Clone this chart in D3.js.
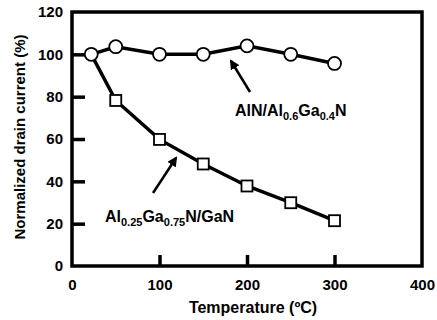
<!DOCTYPE html>
<html><head><meta charset="utf-8">
<script src="https://cdn.jsdelivr.net/npm/d3@7"></script>
<style>body{margin:0;background:#fff}svg{display:block}text{font-family:"Liberation Sans",Arial,sans-serif;font-weight:bold}</style>
</head><body><svg id="c" width="437" height="320"></svg>
<script>
const xTicks = [0, 100, 200, 300, 400];
const yTicks = [0, 20, 40, 60, 80, 100, 120];
const tempAlN = [22, 50, 100, 150, 200, 250, 300];
const currentAlN = [100, 103.6, 100, 100, 104, 100, 95.7];
const tempAlGaN = [22, 50, 100, 150, 200, 250, 300];
const currentAlGaN = [100, 78.2, 59.8, 48.2, 37.8, 29.9, 21.4];

const svg = d3.select("#c");
const m = {l: 72, r: 422, t: 12, b: 266};
const x = d3.scaleLinear().domain([0, 400]).range([m.l, m.r]);
const y = d3.scaleLinear().domain([0, 120]).range([m.b, m.t]);

svg.append("rect").attr("x", m.l).attr("y", m.t).attr("width", m.r - m.l).attr("height", m.b - m.t)
  .attr("fill", "none").attr("stroke", "#000").attr("stroke-width", 3.5);

const ax = svg.append("g").attr("transform", `translate(0,${m.b})`)
  .call(d3.axisBottom(x).tickValues(xTicks).tickSize(-11).tickPadding(10).tickFormat(d3.format("d")));
const ay = svg.append("g").attr("transform", `translate(${m.l},0)`)
  .call(d3.axisLeft(y).tickValues(yTicks).tickSize(-13).tickPadding(9).tickFormat(d3.format("d")));
[ax, ay].forEach(g => {
  g.select(".domain").remove();
  g.selectAll(".tick line").attr("stroke", "#000").attr("stroke-width", 3.5);
  g.selectAll(".tick text").attr("font-size", 15).attr("fill", "#000").style("font-family", '"Liberation Sans",Arial,sans-serif').style("font-weight", "bold");
});
ax.selectAll(".tick text").attr("dy", "0.9em");
ax.selectAll(".tick").filter(d => d === 0 || d === 400).select("line").remove();
ay.selectAll(".tick").filter(d => d === 0 || d === 120).select("line").remove();

const line = d3.line().x(d => x(d[0])).y(d => y(d[1]));
const s1 = tempAlN.map((t, i) => [t, currentAlN[i]]);
const s2 = tempAlGaN.map((t, i) => [t, currentAlGaN[i]]);

svg.append("path").datum(s2).attr("d", line).attr("fill", "none").attr("stroke", "#000").attr("stroke-width", 3.5);
svg.append("path").datum(s1).attr("d", line).attr("fill", "none").attr("stroke", "#000").attr("stroke-width", 3.5);

svg.selectAll(".sq").data(s2.slice(1)).enter().append("rect")
  .attr("x", d => x(d[0]) - 5.5).attr("y", d => y(d[1]) - 5.5).attr("width", 11).attr("height", 11)
  .attr("fill", "#fff").attr("stroke", "#000").attr("stroke-width", 1.8);
svg.selectAll(".ci").data(s1).enter().append("circle")
  .attr("cx", d => x(d[0])).attr("cy", d => y(d[1])).attr("r", 6.5)
  .attr("fill", "#fff").attr("stroke", "#000").attr("stroke-width", 1.8);

svg.append("text").attr("x", 253).attr("y", 313).attr("text-anchor", "middle").attr("font-size", 16).text("Temperature (ºC)");
svg.append("text").attr("transform", "translate(25,137) rotate(-90)").attr("text-anchor", "middle").attr("font-size", 15).text("Normalized drain current (%)");

function label2(xp, yp, parts) {
  const t = svg.append("text").attr("x", xp).attr("y", yp).attr("font-size", 16);
  let prevSub = false;
  parts.forEach(([s, sub]) => {
    let dy = 0;
    if (sub && !prevSub) dy = 4;
    if (!sub && prevSub) dy = -4;
    t.append("tspan").attr("font-size", sub ? 11 : 16).attr("dy", dy).text(s);
    prevSub = sub;
  });
}
label2(235, 116, [["AlN/Al", false], ["0.6", true], ["Ga", false], ["0.4", true], ["N", false]]);
label2(105, 222, [["Al", false], ["0.25", true], ["Ga", false], ["0.75", true], ["N/GaN", false]]);

svg.append("defs").append("marker").attr("id", "ah").attr("viewBox", "0 0 10 10").attr("refX", 8).attr("refY", 5)
  .attr("markerUnits", "userSpaceOnUse").attr("markerWidth", 10).attr("markerHeight", 10).attr("orient", "auto")
  .append("path").attr("d", "M0,0L10,5L0,10z").attr("fill", "#000");
svg.append("line").attr("x1", 250).attr("y1", 92).attr("x2", 231).attr("y2", 61)
  .attr("stroke", "#000").attr("stroke-width", 2.5).attr("marker-end", "url(#ah)");
svg.append("line").attr("x1", 153).attr("y1", 193).attr("x2", 176).attr("y2", 158)
  .attr("stroke", "#000").attr("stroke-width", 2.5).attr("marker-end", "url(#ah)");
</script></body></html>
